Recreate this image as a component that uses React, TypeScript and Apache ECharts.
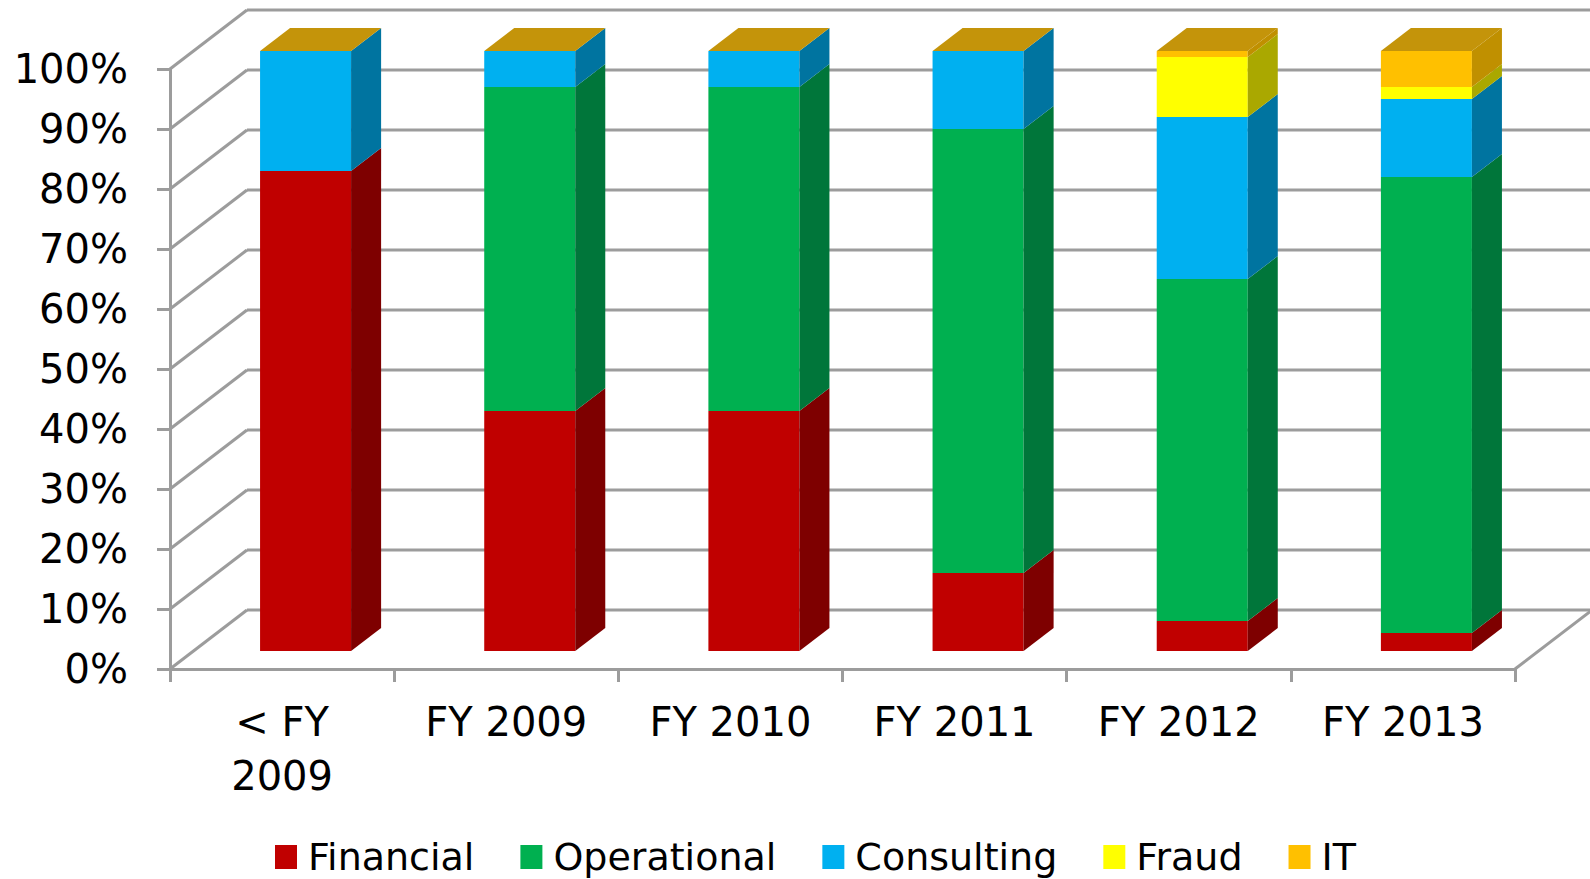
import React, { useEffect, useRef } from "react";
import * as echarts from "echarts";

const CATEGORIES = ["< FY\n2009", "FY 2009", "FY 2010", "FY 2011", "FY 2012", "FY 2013"];
const SERIES_NAMES = ["Financial", "Operational", "Consulting", "Fraud", "IT"];
const FINANCIAL = [80, 40, 40, 13, 5, 3];
const OPERATIONAL = [0, 54, 54, 74, 57, 76];
const CONSULTING = [20, 6, 6, 13, 27, 13];
const FRAUD = [0, 0, 0, 0, 10, 2];
const IT = [0, 0, 0, 0, 1, 6];
const Y_TICKS = [0, 10, 20, 30, 40, 50, 60, 70, 80, 90, 100];

const FRONT_COLORS = ["#C00000", "#00B050", "#00B0F0", "#FFFF00", "#FFC000"];
const SIDE_COLORS = ["#7E0000", "#00763A", "#0074A0", "#AAA800", "#C09000"];
const TOP_COLOR = "#C4940A";

const FONT = "'DejaVu Sans', sans-serif";
const GRID_COLOR = "#9C9C9C";
const DX = 77;
const DY = -59;
const F1 = 0.305;
const F2 = 0.695;
const BAR_FRAC = 0.406;

export default function App() {
  const ref = useRef<HTMLDivElement>(null);
  useEffect(() => {
    if (!ref.current) return;
    const chart = echarts.init(ref.current, null, { renderer: "svg" });
    const all = [FINANCIAL, OPERATIONAL, CONSULTING, FRAUD, IT];
    const bases: number[][] = [];
    const acc = CATEGORIES.map(() => 0);
    all.forEach((arr) => {
      bases.push(acc.slice());
      arr.forEach((v, i) => (acc[i] += v));
    });

    const barSeries = all.map((arr, s) => ({
      type: "custom",
      name: SERIES_NAMES[s],
      coordinateSystem: "cartesian2d",
      itemStyle: { color: FRONT_COLORS[s] },
      z: 5,
      data: arr.map((v, i) => [i, bases[s][i], bases[s][i] + v]),
      renderItem: (params: any, api: any) => {
        const i = api.value(0);
        const b = api.value(1);
        const t = api.value(2);
        const band = api.size([1, 0])[0];
        const w = band * BAR_FRAC;
        const pb = api.coord([i, b]);
        const pt = api.coord([i, t]);
        const xl = pb[0] - w / 2 + F1 * DX;
        const xr = xl + w;
        const yb = pb[1] + F1 * DY;
        const yt = pt[1] + F1 * DY;
        const ddx = (F2 - F1) * DX;
        const ddy = (F2 - F1) * DY;
        const children: any[] = [];
        if (t > b) {
          children.push({
            type: "rect",
            shape: { x: xl, y: yt, width: w, height: yb - yt },
            style: { fill: FRONT_COLORS[s] },
          });
          children.push({
            type: "polygon",
            shape: {
              points: [
                [xr, yb],
                [xr, yt],
                [xr + ddx, yt + ddy],
                [xr + ddx, yb + ddy],
              ],
            },
            style: { fill: SIDE_COLORS[s] },
          });
        }
        if (s === all.length - 1) {
          children.push({
            type: "polygon",
            shape: {
              points: [
                [xl, yt],
                [xr, yt],
                [xr + ddx, yt + ddy],
                [xl + ddx, yt + ddy],
              ],
            },
            style: { fill: TOP_COLOR },
          });
        }
        return { type: "group", children };
      },
    }));

    const gridSeries = {
      type: "custom",
      name: "grid",
      coordinateSystem: "cartesian2d",
      silent: true,
      z: 1,
      data: Y_TICKS.map((v) => [0, v]),
      renderItem: (params: any, api: any) => {
        const v = api.value(1);
        const cs = params.coordSys;
        const y = api.coord([0, v])[1];
        const x0 = cs.x;
        const x1 = cs.x + cs.width;
        const style = { stroke: GRID_COLOR, lineWidth: 3 };
        const children: any[] = [
          { type: "line", shape: { x1: x0, y1: y, x2: x0 + DX, y2: y + DY }, style },
          { type: "line", shape: { x1: x0 + DX, y1: y + DY, x2: x1 + DX, y2: y + DY }, style },
        ];
        if (v === 0) {
          children.push({ type: "line", shape: { x1: x1, y1: y, x2: x1 + DX, y2: y + DY }, style });
        }
        return { type: "group", children };
      },
    };

    chart.setOption({
      animation: false,
      backgroundColor: "#ffffff",
      grid: { left: 170, top: 69, width: 1345, height: 600, containLabel: false },
      xAxis: {
        type: "category",
        data: CATEGORIES,
        boundaryGap: true,
        axisLine: { show: true, lineStyle: { color: GRID_COLOR, width: 3 } },
        axisTick: { show: true, length: 13, alignWithLabel: false, lineStyle: { color: GRID_COLOR, width: 3 } },
        axisLabel: {
          color: "#000",
          fontFamily: FONT,
          fontSize: 40,
          lineHeight: 54,
          margin: 26,
          interval: 0,
        },
        splitLine: { show: false },
      },
      yAxis: {
        type: "value",
        min: 0,
        max: 100,
        interval: 10,
        axisLine: { show: true, lineStyle: { color: GRID_COLOR, width: 3 } },
        axisTick: { show: true, length: 13, lineStyle: { color: GRID_COLOR, width: 3 } },
        axisLabel: {
          color: "#000",
          fontFamily: FONT,
          fontSize: 40,
          margin: 42,
          formatter: "{value}%",
        },
        splitLine: { show: false },
      },
      legend: {
        data: SERIES_NAMES,
        left: 270,
        top: 831,
        icon: "rect",
        itemWidth: 22,
        itemHeight: 24,
        itemGap: 46,
        textStyle: {
          color: "#000",
          fontFamily: FONT,
          fontSize: 38,
          lineHeight: 42,
          padding: [0, 0, 0, 6],
        },
      },
      series: [gridSeries, ...barSeries],
    });
    return () => chart.dispose();
  }, []);
  return (
    <div
      ref={ref}
      style={{ position: "fixed", left: 0, top: 0, width: "1590px", height: "879px" }}
    />
  );
}
